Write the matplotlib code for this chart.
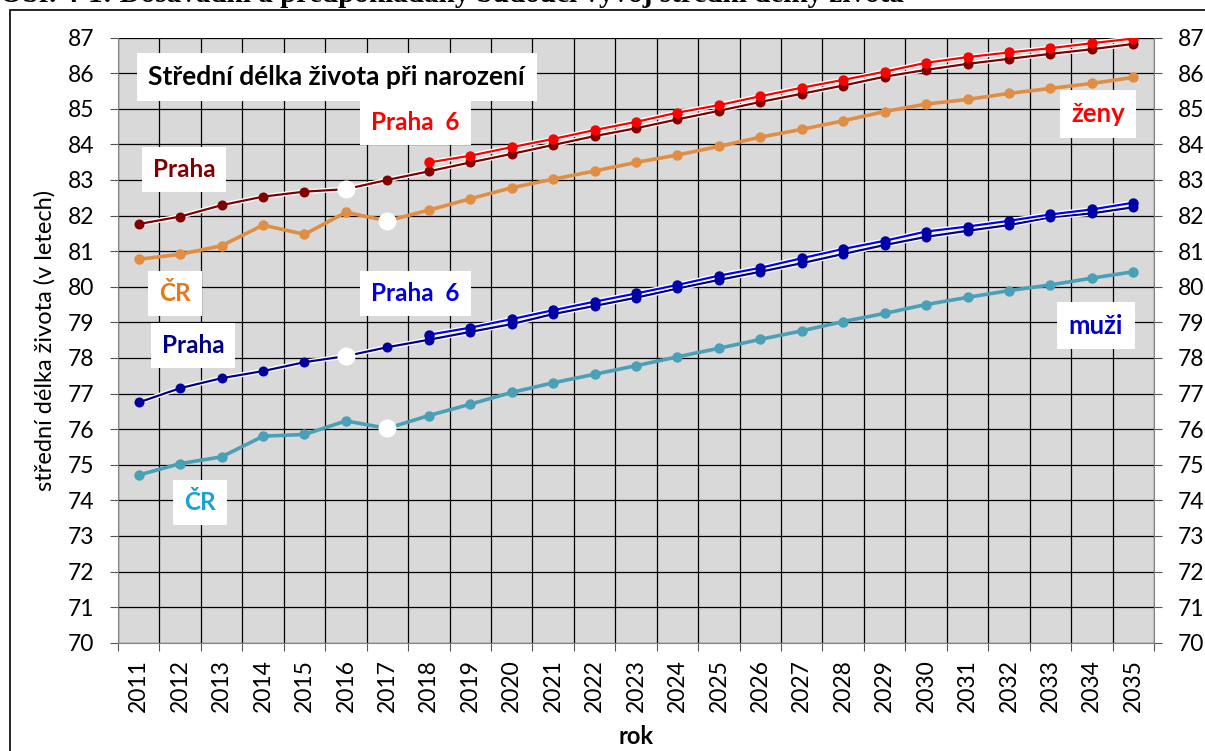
import numpy as np
import matplotlib
matplotlib.use("Agg")
import matplotlib.pyplot as plt
import matplotlib.patheffects as pe
from matplotlib.patches import Rectangle

plt.rcParams['font.family'] = ['Lato', 'DejaVu Sans']

nan = np.nan

years = list(range(2011, 2036))

# zeny
praha_w = [81.76, 81.97, 82.29, 82.53, 82.67, 82.74, 83.00,
           83.24, 83.49, 83.73, 83.98, 84.23, 84.45, 84.70, 84.94, 85.19, 85.42,
           85.65, 85.90, 86.09, 86.26, 86.40, 86.54, 86.67, 86.82]
praha6_w = [nan] * 7 + [83.49, 83.68, 83.92, 84.15, 84.40, 84.63, 84.89, 85.10, 85.35,
                        85.59, 85.81, 86.04, 86.29, 86.45, 86.58, 86.70, 86.84, 86.97]
cr_w = [80.77, 80.91, 81.15, 81.73, 81.47, 82.09, 81.85,
        82.15, 82.47, 82.78, 83.02, 83.25, 83.49, 83.70, 83.94, 84.20, 84.42,
        84.66, 84.92, 85.13, 85.26, 85.43, 85.57, 85.71, 85.88]

# muzi
praha_m = [76.75, 77.15, 77.43, 77.63, 77.88, 78.05, 78.30,
           78.51, 78.73, 78.95, 79.23, 79.46, 79.69, 79.95, 80.19, 80.42, 80.66,
           80.92, 81.17, 81.40, 81.57, 81.73, 81.95, 82.06, 82.23]
praha6_m = [nan] * 7 + [78.65, 78.85, 79.09, 79.34, 79.58, 79.81, 80.05, 80.31, 80.53,
                        80.80, 81.06, 81.29, 81.55, 81.69, 81.85, 82.03, 82.17, 82.36]
cr_m = [74.71, 75.03, 75.22, 75.80, 75.85, 76.23, 76.02,
        76.38, 76.70, 77.03, 77.30, 77.54, 77.78, 78.03, 78.27, 78.52, 78.76,
        79.02, 79.25, 79.50, 79.70, 79.89, 80.05, 80.24, 80.42]

# roky se zlomem rady (bily bod)
break_praha = 2016
break_cr = 2017

x = np.arange(len(years))

fig = plt.figure(figsize=(12.05, 7.51), dpi=100)
ax = fig.add_axes([118 / 1205, 1 - 642.7 / 751, (1154 - 118) / 1205, (642.7 - 37.5) / 751])
ax.set_facecolor('#d9d9d9')

glow = [pe.Stroke(linewidth=3.5, foreground='white'), pe.Normal()]

def series(y, color, lw, ms, mcolor=None, effects=None):
    ax.plot(x, y, '-', color=color, lw=lw, zorder=3, path_effects=effects)
    ax.plot(x, y, 'o', color=mcolor or color, ms=ms, mec='none', zorder=4)

series(cr_w, '#e18e45', 2.6, 7.5)
series(cr_m, '#4aa0b6', 2.6, 7.5)
series(praha_w, '#800000', 1.6, 7.2, effects=glow)
series(praha_m, '#00008b', 1.6, 7.2, mcolor='#00009a', effects=glow)
series(praha6_w, '#ff0000', 1.6, 7.5, effects=glow)
series(praha6_m, '#0000ff', 1.6, 7.5, mcolor='#0000a8', effects=glow)

# bile body v miste zlomu
bp = years.index(break_praha)
bc = years.index(break_cr)
ax.plot([x[bp], x[bp]], [praha_w[bp], praha_m[bp]], 'o', color='white', ms=13, mec='none', zorder=5)
ax.plot([x[bc], x[bc]], [cr_w[bc], cr_m[bc]], 'o', color='white', ms=13, mec='none', zorder=5)

ax.set_xlim(-0.5, len(years) - 0.5)
ax.set_ylim(70, 87)
ax.set_yticks(np.arange(70, 88, 1))
ax.set_xticks(np.arange(-0.5, len(years), 1))
ax.set_xticklabels([])
ax.set_xticks(x, minor=True)
ax.set_xticklabels([str(r) for r in years], minor=True, rotation=90, fontsize=16.5)
ax.tick_params(axis='x', which='minor', length=0, pad=12)
ax.tick_params(axis='x', which='major', length=6, color='#555555', direction='out')
ax.yaxis.set_ticks_position('both')
ax.tick_params(axis='y', length=6, color='#555555', direction='out', labelright=True,
               labelsize=16.5, pad=11)
ax.grid(True, which='major', color='black', lw=0.9)
ax.set_axisbelow(True)
for s in ['left', 'right', 'bottom']:
    ax.spines[s].set_color('#868686')
ax.spines['top'].set_visible(False)

ax.set_ylabel('střední délka života (v letech)', fontsize=17, labelpad=9)
ax.set_xlabel('rok', fontsize=17, fontweight='bold', labelpad=9)

def label(xp, yp, txt, color, size=17.5, bold=True):
    ax.text(xp, yp, txt, color=color, fontsize=size, fontweight='bold' if bold else 'normal',
            ha='center', va='center', zorder=6,
            bbox=dict(boxstyle='square,pad=0.45', fc='white', ec='none'))

label(4.78, 85.88, 'Střední délka života při narození', 'black', size=19)
label(6.68, 84.6, 'Praha  6', '#ff0000')
label(1.09, 83.28, 'Praha', '#7f0000')
label(0.87, 79.82, 'ČR', '#e07b20')
label(6.68, 79.8, 'Praha  6', '#0000e0')
label(1.31, 78.34, 'Praha', '#000080')
label(1.48, 73.94, 'ČR', '#1ba0d8')
label(23.15, 84.85, 'ženy', '#ff0000', size=18.5)
label(23.1, 78.9, 'muži', '#0000cc', size=18.5)

# oriznuty nadpis a ramecek obrazku
fig.text(0.0, 1 - 2 / 751, 'Obr. 4-1: Dosavadní a předpokládaný budoucí vývoj střední délky života',
         family='Liberation Serif', fontweight='bold', fontsize=21, va='baseline', ha='left')
fig.patches.append(Rectangle((10 / 1205, -0.1), 1.2, 1 - 9.5 / 751 + 0.1, transform=fig.transFigure,
                             fill=False, ec='black', lw=1.2))

fig.savefig('out.png', dpi=100)
